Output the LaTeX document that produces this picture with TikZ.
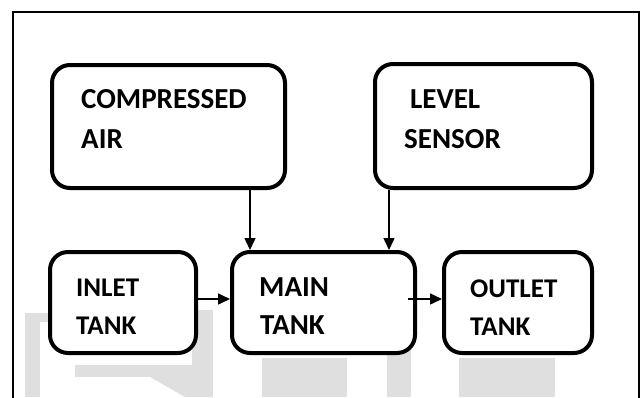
\documentclass[tikz,border=0pt]{standalone}
\usepackage{fontspec}
\setmainfont{Carlito}
\usetikzlibrary{arrows.meta}
\definecolor{wmgray}{HTML}{DFDFDF}
\tikzset{
  tankbox/.style={draw, fill=white, line width=4pt, rounded corners=18pt, inner sep=0pt},
  conn/.style={line width=1.5pt, -{Triangle[width=11pt,length=12pt]}},
  lbl/.style={inner sep=0pt, anchor=base west, font=\bfseries\fontsize{29}{33}\selectfont},
  smalllbl/.style={lbl, font=\bfseries\fontsize{27}{31}\selectfont}
}
\begin{document}
\begin{tikzpicture}[x=1pt,y=-1pt]
\useasboundingbox (0,0) rectangle (642,397);
% faint watermark behind the boxes
\foreach \xa/\ya/\xb/\yb in {25/313/40/397, 40/313/200/322, 75/365/192/377, 192/310/213/397,
  262/358/347/397, 387/313/411/397, 459/358/555/397}
\fill[wmgray] (\xa,\ya) rectangle (\xb,\yb);
\fill[wmgray] (150,377) -- (192,377) -- (213,397) -- (185,397) -- cycle;
% outer frame, open at the bottom
\draw[line width=1.5pt] (13,400) -- (13,12) -- (639,12) -- (639,400);
% boxes
\node[tankbox, minimum width=233pt, minimum height=123pt] (air) at (168.5,126.5) {};
\node[tankbox, minimum width=217pt, minimum height=124pt] (level) at (483.5,126) {};
\node[tankbox, minimum width=146pt, minimum height=101pt] (inlet) at (123,302.5) {};
\node[tankbox, minimum width=183pt, minimum height=101pt] (main) at (323.5,302.5) {};
\node[tankbox, minimum width=148pt, minimum height=101pt] (outlet) at (518,302.5) {};
% labels
\node[lbl] (air1) at (81,108) {COMPRESSED};
\node[lbl] (air2) at (81,148) {AIR};
\node[lbl] (level1) at (410,108) {LEVEL};
\node[lbl] (level2) at (404,148) {SENSOR};
\node[smalllbl] (inlet1) at (76,296) {INLET};
\node[smalllbl] (inlet2) at (76,334) {TANK};
\node[lbl] (main1) at (259,296) {MAIN};
\node[lbl] (main2) at (260,334) {TANK};
\node[smalllbl] (outlet1) at (470,297) {OUTLET};
\node[smalllbl] (outlet2) at (470,335) {TANK};
% connectors
\coordinate (airdrop) at (250,0);
\coordinate (leveldrop) at (389,0);
\draw[conn] (air.south -| airdrop) -- (main.north -| airdrop);
\draw[conn] (level.south -| leveldrop) -- (main.north -| leveldrop);
\draw[conn] ([yshift=3.5pt]inlet.east) -- ([yshift=3.5pt]main.west);
\draw[conn] ([xshift=-9pt,yshift=3.5pt]main.east) -- ([yshift=3.5pt]outlet.west);
\end{tikzpicture}
\end{document}
